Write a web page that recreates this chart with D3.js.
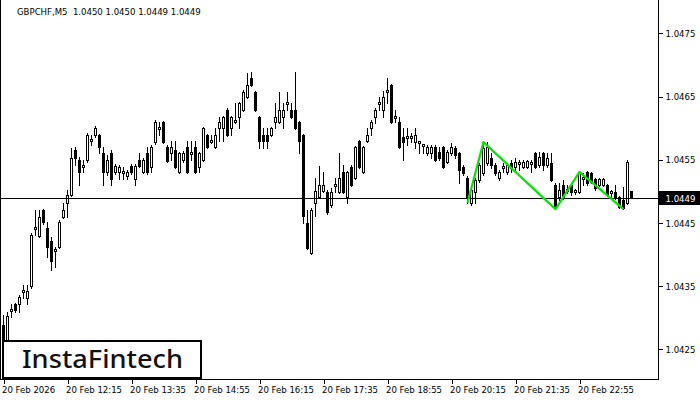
<!DOCTYPE html>
<html><head><meta charset="utf-8">
<script src="https://cdn.jsdelivr.net/npm/d3@7"></script>
<style>
html,body{margin:0;padding:0;background:#fff;}
svg{display:block;}
text{font-family:"DejaVu Sans Condensed","DejaVu Sans",sans-serif;}
</style></head>
<body>
<svg id="c" width="700" height="400"></svg>
<script>
const symbolTitle = "GBPCHF,M5  1.0450 1.0450 1.0449 1.0449";
const xTickIndex = [0,16,32,48,64,80,96,112,128,144];
const xTickLabels = ["20 Feb 2026","20 Feb 12:15","20 Feb 13:35","20 Feb 14:55","20 Feb 16:15","20 Feb 17:35","20 Feb 18:55","20 Feb 20:15","20 Feb 21:35","20 Feb 22:55"];
const yTicks = [1.0425,1.0435,1.0445,1.0455,1.0465,1.0475];

const open = [1.04289,1.04265,1.04311,1.04322,1.04322,1.04341,1.04332,1.04350,1.04441,1.04430,
1.04471,1.04442,1.04422,1.04406,1.04412,1.04460,1.04482,1.04494,1.04566,1.04550,
1.04539,1.04550,1.04580,1.04589,1.04589,1.04561,1.04531,1.04561,1.04531,1.04531,
1.04529,1.04525,1.04540,1.04520,1.04550,1.04531,1.04561,1.04539,1.04578,1.04599,
1.04610,1.04570,1.04561,1.04566,1.04531,1.04550,1.04570,1.04559,1.04570,1.04539,
1.04550,1.04589,1.04578,1.04570,1.04600,1.04600,1.04629,1.04600,1.04610,1.04618,
1.04629,1.04650,1.04680,1.04657,1.04618,1.04589,1.04589,1.04589,1.04610,1.04610,
1.04618,1.04639,1.04629,1.04629,1.04610,1.04589,1.04450,1.04403,1.04482,1.04491,
1.04501,1.04499,1.04479,1.04509,1.04499,1.04531,1.04491,1.04539,1.04521,1.04580,
1.04531,1.04580,1.04600,1.04618,1.04639,1.04629,1.04657,1.04668,1.04616,1.04610,
1.04586,1.04585,1.04585,1.04578,1.04577,1.04572,1.04561,1.04561,1.04570,1.04563,
1.04570,1.04547,1.04561,1.04569,1.04561,1.04539,1.04521,1.04482,1.04499,1.04518,
1.04529,1.04545,1.04553,1.04542,1.04521,1.04537,1.04531,1.04545,1.04539,1.04544,
1.04539,1.04539,1.04544,1.04561,1.04542,1.04561,1.04542,1.04545,1.04510,1.04491,
1.04510,1.04501,1.04510,1.04499,1.04499,1.04520,1.04531,1.04529,1.04520,1.04510,
1.04510,1.04510,1.04498,1.04499,1.04491,1.04487,1.04482,1.04500];
const high = [1.04305,1.04309,1.04321,1.04324,1.04336,1.04352,1.04352,1.04434,1.04471,1.04471,
1.04472,1.04452,1.04428,1.04412,1.04455,1.04482,1.04502,1.04569,1.04570,1.04555,
1.04550,1.04593,1.04589,1.04604,1.04591,1.04570,1.04558,1.04566,1.04544,1.04542,
1.04539,1.04534,1.04544,1.04544,1.04561,1.04553,1.04570,1.04574,1.04613,1.04610,
1.04612,1.04574,1.04580,1.04580,1.04563,1.04564,1.04580,1.04580,1.04580,1.04563,
1.04602,1.04591,1.04589,1.04600,1.04618,1.04619,1.04632,1.04619,1.04640,1.04642,
1.04661,1.04687,1.04689,1.04659,1.04619,1.04600,1.04600,1.04602,1.04640,1.04657,
1.04640,1.04657,1.04640,1.04689,1.04612,1.04591,1.04471,1.04474,1.04521,1.04540,
1.04531,1.04502,1.04506,1.04521,1.04561,1.04542,1.04533,1.04542,1.04572,1.04581,
1.04572,1.04600,1.04613,1.04632,1.04650,1.04659,1.04680,1.04670,1.04629,1.04618,
1.04600,1.04600,1.04593,1.04600,1.04580,1.04575,1.04574,1.04574,1.04574,1.04570,
1.04572,1.04566,1.04577,1.04572,1.04563,1.04542,1.04525,1.04506,1.04521,1.04545,
1.04578,1.04578,1.04561,1.04545,1.04534,1.04545,1.04545,1.04550,1.04553,1.04550,
1.04550,1.04550,1.04550,1.04563,1.04563,1.04563,1.04561,1.04561,1.04513,1.04513,
1.04518,1.04510,1.04513,1.04504,1.04533,1.04529,1.04533,1.04531,1.04521,1.04521,
1.04521,1.04512,1.04502,1.04510,1.04493,1.04507,1.04550,1.04500];
const low = [1.04257,1.04262,1.04301,1.04309,1.04309,1.04332,1.04321,1.04347,1.04431,1.04428,
1.04449,1.04396,1.04376,1.04381,1.04411,1.04458,1.04460,1.04493,1.04542,1.04510,
1.04531,1.04547,1.04574,1.04586,1.04561,1.04510,1.04526,1.04510,1.04528,1.04520,
1.04520,1.04520,1.04528,1.04510,1.04539,1.04529,1.04528,1.04531,1.04575,1.04589,
1.04577,1.04547,1.04550,1.04537,1.04529,1.04547,1.04529,1.04550,1.04529,1.04531,
1.04548,1.04569,1.04577,1.04569,1.04580,1.04580,1.04588,1.04589,1.04608,1.04600,
1.04627,1.04648,1.04667,1.04627,1.04569,1.04569,1.04569,1.04588,1.04600,1.04608,
1.04600,1.04629,1.04616,1.04599,1.04561,1.04450,1.04409,1.04401,1.04461,1.04490,
1.04499,1.04464,1.04476,1.04499,1.04498,1.04498,1.04482,1.04509,1.04520,1.04537,
1.04529,1.04578,1.04589,1.04608,1.04629,1.04618,1.04640,1.04608,1.04610,1.04569,
1.04550,1.04574,1.04578,1.04569,1.04561,1.04561,1.04558,1.04553,1.04548,1.04550,
1.04537,1.04545,1.04558,1.04553,1.04513,1.04526,1.04482,1.04479,1.04482,1.04515,
1.04526,1.04542,1.04537,1.04526,1.04518,1.04531,1.04528,1.04531,1.04534,1.04534,
1.04537,1.04537,1.04531,1.04537,1.04539,1.04534,1.04539,1.04517,1.04472,1.04487,
1.04488,1.04498,1.04494,1.04496,1.04498,1.04510,1.04510,1.04513,1.04502,1.04509,
1.04509,1.04493,1.04490,1.04488,1.04474,1.04472,1.04480,1.04490];
const close = [1.04265,1.04303,1.04314,1.04313,1.04333,1.04344,1.04343,1.04431,1.04444,1.04460,
1.04452,1.04412,1.04390,1.04409,1.04452,1.04471,1.04494,1.04553,1.04553,1.04531,
1.04542,1.04589,1.04583,1.04600,1.04570,1.04531,1.04550,1.04520,1.04540,1.04539,
1.04533,1.04531,1.04531,1.04540,1.04540,1.04550,1.04531,1.04570,1.04610,1.04602,
1.04578,1.04548,1.04570,1.04539,1.04561,1.04561,1.04531,1.04563,1.04531,1.04561,
1.04600,1.04570,1.04581,1.04589,1.04610,1.04618,1.04589,1.04618,1.04613,1.04640,
1.04657,1.04668,1.04668,1.04629,1.04580,1.04580,1.04580,1.04600,1.04618,1.04629,
1.04629,1.04642,1.04618,1.04600,1.04580,1.04461,1.04411,1.04471,1.04501,1.04510,
1.04510,1.04468,1.04499,1.04512,1.04521,1.04499,1.04531,1.04510,1.04570,1.04539,
1.04570,1.04589,1.04610,1.04629,1.04642,1.04650,1.04661,1.04610,1.04619,1.04570,
1.04578,1.04588,1.04588,1.04589,1.04580,1.04575,1.04570,1.04570,1.04550,1.04553,
1.04539,1.04563,1.04570,1.04558,1.04534,1.04529,1.04491,1.04502,1.04518,1.04542,
1.04569,1.04570,1.04542,1.04529,1.04531,1.04540,1.04542,1.04537,1.04547,1.04547,
1.04547,1.04548,1.04547,1.04539,1.04555,1.04542,1.04553,1.04518,1.04476,1.04502,
1.04491,1.04504,1.04499,1.04502,1.04531,1.04523,1.04513,1.04515,1.04506,1.04520,
1.04520,1.04494,1.04501,1.04490,1.04476,1.04474,1.04547,1.04490];

const patternIndex = [116,120,138,144,155];
const patternPrice = [1.04482,1.04578,1.04472,1.04531,1.04472];

const svg = d3.select("#c");
const W = 700, H = 400;
const plotR = 658.5, plotB = 379;

const x = d3.scaleLinear().domain([0, open.length-1]).range([3.5, 3.5 + 4*(open.length-1)]);
const y = d3.scaleLinear().domain([1.04203, 1.04803]).range([plotB, 0]);

svg.append("rect").attr("width",W).attr("height",H).attr("fill","#fff");

const bars = open.map((o,i)=>({i,o,h:high[i],l:low[i],c:close[i]}));
const g = svg.append("g").attr("shape-rendering","crispEdges");

// wicks
g.selectAll("line.wick").data(bars).join("line")
  .attr("x1",d=>x(d.i)).attr("x2",d=>x(d.i))
  .attr("y1",d=>Math.round(y(d.h)))
  .attr("y2",d=>Math.round(y(d.l))+1)
  .attr("stroke","#000").attr("stroke-width",1);

// bodies
g.selectAll("rect.body").data(bars).join("rect")
  .attr("x",d=>x(d.i)-1)
  .attr("width",2)
  .attr("y",d=>Math.round(y(Math.max(d.o,d.c)))+0.5)
  .attr("height",d=>Math.max(0, Math.round(y(Math.min(d.o,d.c))) - Math.round(y(Math.max(d.o,d.c)))))
  .attr("fill",d=>d.c>d.o ? "#fff" : "#000")
  .attr("stroke","#000").attr("stroke-width",1);

// current price line
const last = close[close.length-1];
const yl = Math.round(y(last))+0.5;
svg.append("line").attr("x1",0).attr("x2",plotR).attr("y1",yl).attr("y2",yl)
  .attr("stroke","#000").attr("stroke-width",1);

// pattern
const line = d3.line().x(d=>x(d[0])).y(d=>y(d[1]));
svg.append("path").datum(patternIndex.map((k,j)=>[k,patternPrice[j]]))
  .attr("d",line).attr("fill","none").attr("stroke","#00e600").attr("stroke-width",2.2)
  .attr("stroke-linejoin","round");

// frame
svg.append("path").attr("d",`M0.5,0 V${plotB+0.5} H${plotR} V0`)
  .attr("fill","none").attr("stroke","#000").attr("shape-rendering","crispEdges");

// right axis
const ya = d3.axisRight(y).tickValues(yTicks).tickFormat(d3.format(".4f")).tickSize(4).tickPadding(3);
const gy = svg.append("g").attr("transform",`translate(${plotR},0)`).call(ya);
gy.select(".domain").remove();
gy.selectAll("line").attr("stroke","#000").attr("shape-rendering","crispEdges");
gy.selectAll("text").attr("font-size","9.5px").attr("fill","#000")
  .style("font-family",'"DejaVu Sans Condensed","DejaVu Sans",sans-serif');

// price label
svg.append("rect").attr("x",plotR+0.5).attr("y",yl-7.5).attr("width",W-plotR).attr("height",14).attr("fill","#000");
svg.append("text").attr("x",plotR+7).attr("y",yl+3.5).attr("fill","#fff").attr("font-size","9.5px")
  .text(d3.format(".4f")(last));

// bottom axis
const xa = d3.axisBottom(x).tickValues(xTickIndex).tickFormat((d,k)=>xTickLabels[k]).tickSize(4).tickPadding(3);
const gx = svg.append("g").attr("transform",`translate(0,${plotB+0.5})`).call(xa);
gx.select(".domain").remove();
gx.selectAll("line").attr("stroke","#000").attr("shape-rendering","crispEdges");
gx.selectAll("text").attr("text-anchor","start").attr("dx","-2").attr("font-size","9.5px").attr("fill","#000")
  .style("font-family",'"DejaVu Sans Condensed","DejaVu Sans",sans-serif');

// title
svg.append("text").attr("x",17).attr("y",15).attr("font-size","9.5px").attr("fill","#000")
  .attr("xml:space","preserve").style("white-space","pre").text(symbolTitle);

// logo
svg.append("rect").attr("x",3).attr("y",341).attr("width",198).attr("height",37)
  .attr("fill","#fff").attr("stroke","#000").attr("stroke-width",2);
svg.append("text").attr("x",22).attr("y",368).attr("font-size","25px")
  .attr("textLength",161).attr("lengthAdjust","spacingAndGlyphs")
  .style("font-family",'"Noto Sans",sans-serif').style("font-weight","500").attr("fill","#111")
  .text("InstaFintech");
</script>
</body></html>
